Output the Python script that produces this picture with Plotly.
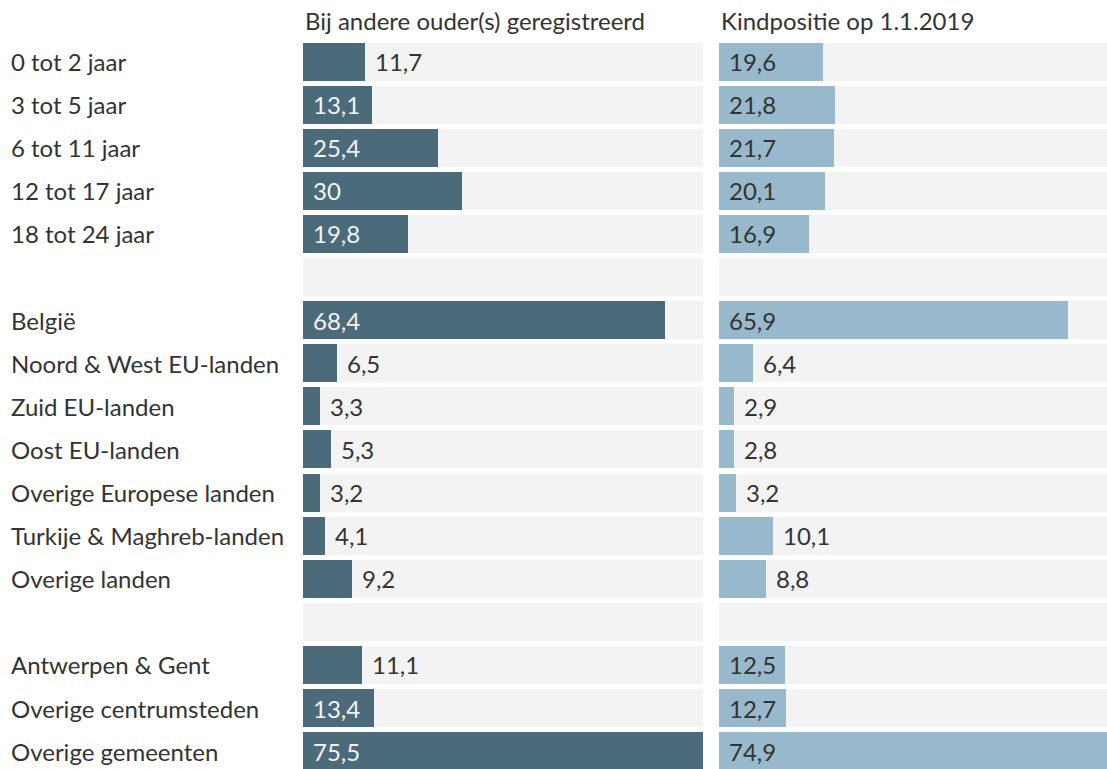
import plotly.graph_objects as go

categories = ["0 tot 2 jaar", "3 tot 5 jaar", "6 tot 11 jaar", "12 tot 17 jaar", "18 tot 24 jaar", "",
              "België", "Noord & West EU-landen", "Zuid EU-landen", "Oost EU-landen",
              "Overige Europese landen", "Turkije & Maghreb-landen", "Overige landen", "",
              "Antwerpen & Gent", "Overige centrumsteden", "Overige gemeenten"]
bij_andere_ouder = [11.7, 13.1, 25.4, 30, 19.8, None, 68.4, 6.5, 3.3, 5.3, 3.2, 4.1, 9.2, None, 11.1, 13.4, 75.5]
kindpositie = [19.6, 21.8, 21.7, 20.1, 16.9, None, 65.9, 6.4, 2.9, 2.8, 3.2, 10.1, 8.8, None, 12.5, 12.7, 74.9]
panel_titles = ["Bij andere ouder(s) geregistreerd", "Kindpositie op 1.1.2019"]

W, H = 1107, 769
FONT = "Lato, 'Open Sans', sans-serif"
FS = 24
DARK = "#4b6a7a"
LIGHT = "#98b9cb"
BG = "#f3f3f3"
TXT = "#333333"

ypos = list(range(len(categories)))
vmax = max(v for v in bij_andere_ouder + kindpositie if v is not None)
scale = 400 / vmax  # px per unit
x1_dom = [303 / W, 703 / W]
x2_dom = [719 / W, 1.0]
x2_max = (W - 719) / scale

def fmt(v):
    s = f"{v:.1f}".replace(".", ",")
    return s[:-2] if s.endswith(",0") else s

fig = go.Figure()
for vals, color, xa, ya, incol in [(bij_andere_ouder, DARK, "x", "y", "#f4f4f4"),
                                   (kindpositie, LIGHT, "x2", "y2", TXT)]:
    fig.add_trace(go.Bar(x=[vmax] * len(ypos), y=ypos, orientation="h", width=0.88,
                         marker=dict(color=BG, line=dict(width=0)), xaxis=xa, yaxis=ya,
                         hoverinfo="skip", showlegend=False))
    fig.add_trace(go.Bar(x=vals, y=ypos, orientation="h", width=0.88,
                         marker=dict(color=color, line=dict(width=0)), xaxis=xa, yaxis=ya,
                         showlegend=False))
    for y, v in zip(ypos, vals):
        if v is None:
            continue
        inside = v >= 12
        fig.add_annotation(x=0 if inside else v, y=y, xref=xa, yref=ya, text=fmt(v),
                           showarrow=False, xanchor="left", yanchor="middle", xshift=8,
                           font=dict(family=FONT, size=FS, color=incol if inside else TXT))

for y, c in zip(ypos, categories):
    if c:
        fig.add_annotation(x=9 / W, y=y, xref="paper", yref="y", text=c, showarrow=False,
                           xanchor="left", yanchor="middle",
                           font=dict(family=FONT, size=FS, color=TXT))

for t, dom in zip(panel_titles, [x1_dom, x2_dom]):
    fig.add_annotation(x=dom[0], y=1, xref="paper", yref="paper", text=t, showarrow=False,
                       xanchor="left", yanchor="middle", yshift=20, xshift=0,
                       font=dict(family=FONT, size=FS, color=TXT))

top = 40
yrange = [-0.5 + (H - top) / 43.1, -0.5]
fig.update_layout(
    width=W, height=H, barmode="overlay", bargap=0,
    margin=dict(l=0, r=0, t=top, b=0),
    paper_bgcolor="white", plot_bgcolor="white",
    xaxis=dict(domain=x1_dom, range=[0, vmax], visible=False, fixedrange=True),
    xaxis2=dict(domain=x2_dom, range=[0, x2_max], visible=False, fixedrange=True),
    yaxis=dict(range=yrange, visible=False, fixedrange=True),
    yaxis2=dict(range=yrange, visible=False, anchor="x2", matches="y", fixedrange=True),
)
fig.write_html("out.html", config={"displayModeBar": False},
               post_script="document.body.style.margin='0';document.body.style.overflow='hidden';")
